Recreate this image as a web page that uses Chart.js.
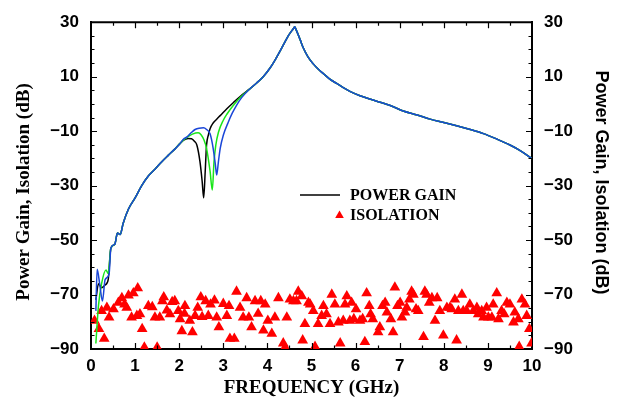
<!DOCTYPE html>
<html>
<head>
<meta charset="utf-8">
<script src="https://cdn.jsdelivr.net/npm/chart.js@4.4.1/dist/chart.umd.min.js"></script>
<style>
  html, body { margin: 0; padding: 0; background: #fff; }
  #wrap { width: 619px; height: 404px; }
</style>
</head>
<body>
<div id="wrap"><canvas id="gainChart" width="619" height="404"></canvas></div>
<script>
// Axis ticks
const freqTicks = [0, 1, 2, 3, 4, 5, 6, 7, 8, 9, 10];
const dbTicks = [-90, -70, -50, -30, -10, 10, 30];

// Power gain: low end differs between the three curves
const blueStartF = [0.11, 0.14, 0.20, 0.26, 0.32, 0.41];
const blueStartG = [-76, -60.7, -66.5, -72.4, -64.5, -62.5];
const greenStartF = [0.11, 0.17, 0.24, 0.34, 0.39];
const greenStartG = [-88, -74, -66, -61, -62.3];
const blackStartF = [0.11, 0.17, 0.24, 0.32, 0.39];
const blackStartG = [-72, -66, -67.5, -66.5, -64.5];

// shared rise 0.45 .. 2 GHz
const riseF = [0.45, 0.54, 0.60, 0.66, 0.73, 0.85, 1.0, 1.15, 1.3, 1.45, 1.6, 1.75, 1.9, 2.02];
const riseG = [-53, -51.5, -47.4, -48, -43.8, -38.6, -34.5, -30, -26.5, -24, -21.3, -18.9, -16.6, -14.5];

// notch region, one per curve
const blackNotchF = [2.1, 2.2, 2.28, 2.35, 2.40, 2.47, 2.52, 2.555, 2.59, 2.62, 2.66, 2.70, 2.77, 2.85, 2.93, 3.08, 3.23, 3.4];
const blackNotchG = [-13.3, -12.7, -12.8, -13.8, -15.1, -21.1, -28.3, -34.5, -24.7, -15.1, -11.5, -9.1, -7.0, -5.6, -4.3, -1.8, 0.5, 3.0];
const greenNotchF = [2.1, 2.2, 2.3, 2.43, 2.5, 2.56, 2.62, 2.70, 2.75, 2.79, 2.83, 2.89, 3.0, 3.08, 3.23, 3.4];
const greenNotchG = [-13.2, -12.0, -11.1, -10.6, -11.4, -13.2, -16.3, -24.7, -31.6, -21.1, -15.1, -10.4, -6.0, -3.8, -0.5, 2.6];
const blueNotchF = [2.1, 2.17, 2.27, 2.36, 2.45, 2.55, 2.62, 2.70, 2.77, 2.82, 2.85, 2.89, 2.93, 3.0, 3.11, 3.2, 3.3, 3.42];
const blueNotchG = [-12.9, -12.2, -10.6, -9.4, -8.9, -8.8, -9.4, -11.0, -16.3, -22.3, -26.1, -21.1, -16.3, -11.5, -6.8, -3.5, -0.5, 2.4];

// shared resonance peak and roll-off
const peakF = [3.6, 3.75, 3.9, 4.06, 4.18, 4.29, 4.38, 4.47, 4.55, 4.6, 4.62, 4.66, 4.74, 4.81, 4.92, 5.04, 5.15, 5.27, 5.4, 5.57, 5.72, 5.87, 6.1, 6.3, 6.48, 6.8, 7.08, 7.4, 7.69, 8.0, 8.29, 8.6, 8.9, 9.2, 9.5, 9.75, 10.0];
const peakG = [5.5, 7.6, 9.9, 13.2, 16.3, 19.5, 22.2, 24.9, 26.8, 27.9, 28.3, 26.9, 23.7, 20.7, 17.3, 14.7, 12.8, 11.1, 9.3, 7.5, 6.0, 4.6, 3.0, 1.9, 1.0, -0.7, -2.6, -4.1, -5.6, -6.8, -8.0, -9.4, -10.9, -12.9, -15.1, -17.3, -20.1];

// Isolation measurements
const isoFreq = [0.08, 0.18, 0.24, 0.30, 0.36, 0.41, 0.51, 0.62, 0.70, 0.76, 0.81, 0.85, 0.92, 0.96, 1.04, 1.06, 1.11, 1.16, 1.21, 1.30,
  1.39, 1.45, 1.50, 1.56, 1.62, 1.65, 1.72, 1.79, 1.84, 1.90, 1.98, 2.02, 2.06, 2.12, 2.13, 2.24, 2.30, 2.36, 2.42, 2.49,
  2.52, 2.60, 2.66, 2.71, 2.80, 2.85, 2.90, 3.00, 3.08, 3.13, 3.15, 3.25, 3.30, 3.38, 3.45, 3.53, 3.58, 3.64, 3.72, 3.79,
  3.85, 3.91, 3.95, 4.01, 4.10, 4.17, 4.25, 4.36, 4.40, 4.44, 4.51, 4.59, 4.66, 4.70, 4.78, 4.80, 4.85, 4.93, 4.97, 5.04,
  5.08, 5.15, 5.23, 5.27, 5.34, 5.42, 5.46, 5.53, 5.61, 5.65, 5.72, 5.76, 5.80, 5.87, 5.91, 5.96, 6.01, 6.10, 6.16, 6.21,
  6.25, 6.31, 6.34, 6.39, 6.51, 6.55, 6.61, 6.67, 6.71, 6.80, 6.85, 6.89, 6.95, 7.01, 7.05, 7.12, 7.16, 7.22, 7.27, 7.31,
  7.37, 7.42, 7.54, 7.57, 7.61, 7.67, 7.73, 7.80, 7.85, 7.91, 7.99, 8.07, 8.14, 8.18, 8.25, 8.29, 8.33, 8.41, 8.44, 8.52,
  8.59, 8.67, 8.75, 8.78, 8.86, 8.90, 8.97, 9.01, 9.09, 9.12, 9.20, 9.24, 9.31, 9.37, 9.43, 9.50, 9.58, 9.61, 9.69, 9.71,
  9.77, 9.84, 9.88, 9.94, 9.99];
const isoDb = [-79.6, -82.6, -76.0, -86.2, -74.8, -78.4, -75.4, -73.0, -71.3, -73.6, -74.8, -70.3, -78.4, -69.5, -77.8, -67.7, -77.2, -82.6, -89.4, -74.2,
  -74.6, -78.4, -89.4, -78.4, -72.4, -71.0, -75.8, -77.2, -72.7, -72.4, -76.0, -79.0, -83.4, -77.0, -74.2, -79.6, -83.8, -77.8, -74.8, -71.0,
  -78.2, -72.4, -77.8, -73.6, -72.2, -78.4, -82.0, -73.4, -77.8, -74.2, -86.2, -86.2, -68.9, -74.8, -78.4, -71.3, -78.4, -82.0, -72.4, -77.0,
  -72.4, -83.2, -73.6, -79.6, -84.4, -78.4, -71.3, -87.9, -89.4, -78.4, -71.8, -72.4, -72.4, -68.9, -70.6, -86.8, -80.8, -73.0, -73.6, -76.0,
  -89.2, -80.8, -77.8, -74.2, -77.2, -80.8, -70.0, -73.6, -80.2, -87.9, -79.6, -73.6, -70.6, -79.6, -73.0, -79.0, -75.4, -79.6, -79.0, -87.4,
  -69.5, -74.2, -77.2, -79.0, -83.8, -82.0, -74.2, -73.0, -76.6, -79.0, -83.8, -67.4, -74.2, -73.0, -78.4, -76.6, -74.8, -71.8, -68.9, -70.0,
  -75.4, -76.0, -85.6, -68.9, -70.0, -73.0, -71.3, -79.6, -71.3, -76.0, -85.0, -74.8, -74.8, -75.4, -71.8, -86.8, -76.0, -70.0, -76.0, -76.0,
  -73.6, -76.0, -74.8, -77.2, -76.0, -78.4, -74.8, -78.4, -78.4, -73.6, -69.5, -79.0, -76.0, -77.2, -73.0, -73.6, -80.2, -76.6, -79.0, -89.2,
  -71.8, -73.6, -77.8, -82.6, -87.9];

const toPoints = (fs, gs) => fs.map((f, i) => ({ x: f, y: gs[i] }));

const blackLine = toPoints([...blackStartF, ...riseF, ...blackNotchF, ...peakF], [...blackStartG, ...riseG, ...blackNotchG, ...peakG]);
const greenLine = toPoints([...greenStartF, ...riseF, ...greenNotchF, ...peakF], [...greenStartG, ...riseG, ...greenNotchG, ...peakG]);
const blueLine = toPoints([...blueStartF, ...riseF, ...blueNotchF, ...peakF], [...blueStartG, ...riseG, ...blueNotchG, ...peakG]);
const isoPoints = toPoints(isoFreq, isoDb);

const SANS = '"Liberation Sans", Arial, sans-serif';
const SERIF = '"Liberation Serif", "Times New Roman", serif';
const MARKER_R = 6.2;

const fmtDb = v => (v < 0 ? '\u2212' + Math.abs(v) : String(v));

// inward ticks on all four sides, plus the top frame line
const frameTicks = {
  id: 'frameTicks',
  afterDatasetsDraw(chart) {
    const { ctx, chartArea: a, scales } = chart;
    const xs = scales.x, ys = scales.y;
    ctx.save();
    ctx.strokeStyle = '#000';
    ctx.lineWidth = 2;
    ctx.beginPath();
    ctx.moveTo(a.left - 1, a.top);
    ctx.lineTo(a.right + 1, a.top);
    ctx.stroke();
    ctx.lineWidth = 1.2;
    ctx.beginPath();
    for (let f = 0.5; f < 10; f += 0.5) {
      const px = Math.round(xs.getPixelForValue(f)) + 0.5;
      const len = Number.isInteger(f) ? 6 : 3.5;
      ctx.moveTo(px, a.bottom); ctx.lineTo(px, a.bottom - len);
      ctx.moveTo(px, a.top); ctx.lineTo(px, a.top + len);
    }
    for (let d = -85; d < 30; d += 5) {
      const py = Math.round(ys.getPixelForValue(d)) + 0.5;
      const len = (d + 90) % 20 === 0 ? 6 : 3.5;
      ctx.moveTo(a.left, py); ctx.lineTo(a.left + len, py);
      ctx.moveTo(a.right, py); ctx.lineTo(a.right - len, py);
    }
    ctx.stroke();
    ctx.restore();
  },
  afterDraw(chart) {
    const { ctx } = chart;
    ctx.save();
    ctx.fillStyle = '#000';
    ctx.textAlign = 'center';
    ctx.textBaseline = 'middle';

    // axis titles
    ctx.font = 'bold 19px ' + SERIF;
    ctx.save();
    ctx.translate(24, 192);
    ctx.rotate(-Math.PI / 2);
    ctx.fillText('Power Gain, Isolation (dB)', 0, 0);
    ctx.restore();
    ctx.fillText('FREQUENCY (GHz)', 311.5, 388);

    ctx.font = 'bold 18px ' + SANS;
    ctx.save();
    ctx.translate(601, 182.5);
    ctx.rotate(Math.PI / 2);
    ctx.fillText('Power Gain, Isolation (dB)', 0, 0);
    ctx.restore();

    // legend
    const ds = chart.data.datasets;
    ctx.strokeStyle = ds[2].borderColor;
    ctx.lineWidth = 1.5;
    ctx.beginPath();
    ctx.moveTo(300, 195); ctx.lineTo(340, 195);
    ctx.stroke();
    ctx.fillStyle = ds[3].backgroundColor;
    ctx.strokeStyle = ds[3].backgroundColor;
    ctx.lineWidth = 0;
    Chart.helpers.drawPoint(ctx, { pointStyle: 'triangle', radius: 5, borderWidth: 0 }, 339.5, 215.5);
    ctx.fillStyle = '#000';
    ctx.textAlign = 'left';
    ctx.font = 'bold 16px ' + SERIF;
    ctx.fillText(ds[2].label, 350, 196);
    ctx.fillText(ds[3].label, 350, 216);
    ctx.restore();
  }
};

new Chart(document.getElementById('gainChart'), {
  type: 'scatter',
  data: {
    datasets: [
      { label: 'POWER GAIN (C)', data: blueLine, showLine: true, borderColor: '#1a46d8', borderWidth: 1.5, pointRadius: 0, cubicInterpolationMode: 'monotone' },
      { label: 'POWER GAIN (B)', data: greenLine, showLine: true, borderColor: '#19e619', borderWidth: 1.5, pointRadius: 0, cubicInterpolationMode: 'monotone' },
      { label: 'POWER GAIN', data: blackLine, showLine: true, borderColor: '#000000', borderWidth: 1.5, pointRadius: 0, cubicInterpolationMode: 'monotone' },
      { label: 'ISOLATION', data: isoPoints, showLine: false, pointStyle: 'triangle', pointRadius: MARKER_R, backgroundColor: '#ff0000', borderColor: '#ff0000', borderWidth: 0 }
    ]
  },
  options: {
    responsive: false,
    animation: false,
    events: [],
    layout: { padding: { top: 14, left: 0, right: 0, bottom: 0 } },
    plugins: { legend: { display: false }, tooltip: { enabled: false } },
    scales: {
      x: {
        type: 'linear', position: 'bottom', min: 0, max: 10,
        afterBuildTicks: s => { s.ticks = freqTicks.map(v => ({ value: v })); },
        afterFit: s => { s.height = 55; },
        grid: { display: false, drawTicks: false },
        border: { display: true, color: '#000', width: 2 },
        ticks: { padding: 7, color: '#000', font: { family: SANS, size: 17, weight: 'bold' } }
      },
      y: {
        type: 'linear', position: 'left', min: -90, max: 30,
        afterBuildTicks: s => { s.ticks = dbTicks.map(v => ({ value: v })); },
        afterFit: s => { s.width = 91; },
        grid: { display: false, drawTicks: false },
        border: { display: true, color: '#000', width: 2 },
        ticks: { padding: 12, color: '#000', font: { family: SANS, size: 17, weight: 'bold' }, callback: fmtDb }
      },
      y2: {
        type: 'linear', position: 'right', min: -90, max: 30,
        afterBuildTicks: s => { s.ticks = dbTicks.map(v => ({ value: v })); },
        afterFit: s => { s.width = 87; },
        grid: { display: false, drawTicks: false },
        border: { display: true, color: '#000', width: 2 },
        ticks: { padding: 12, color: '#000', font: { family: SANS, size: 17, weight: 'bold' }, callback: fmtDb }
      }
    }
  },
  plugins: [frameTicks]
});
</script>
</body>
</html>
